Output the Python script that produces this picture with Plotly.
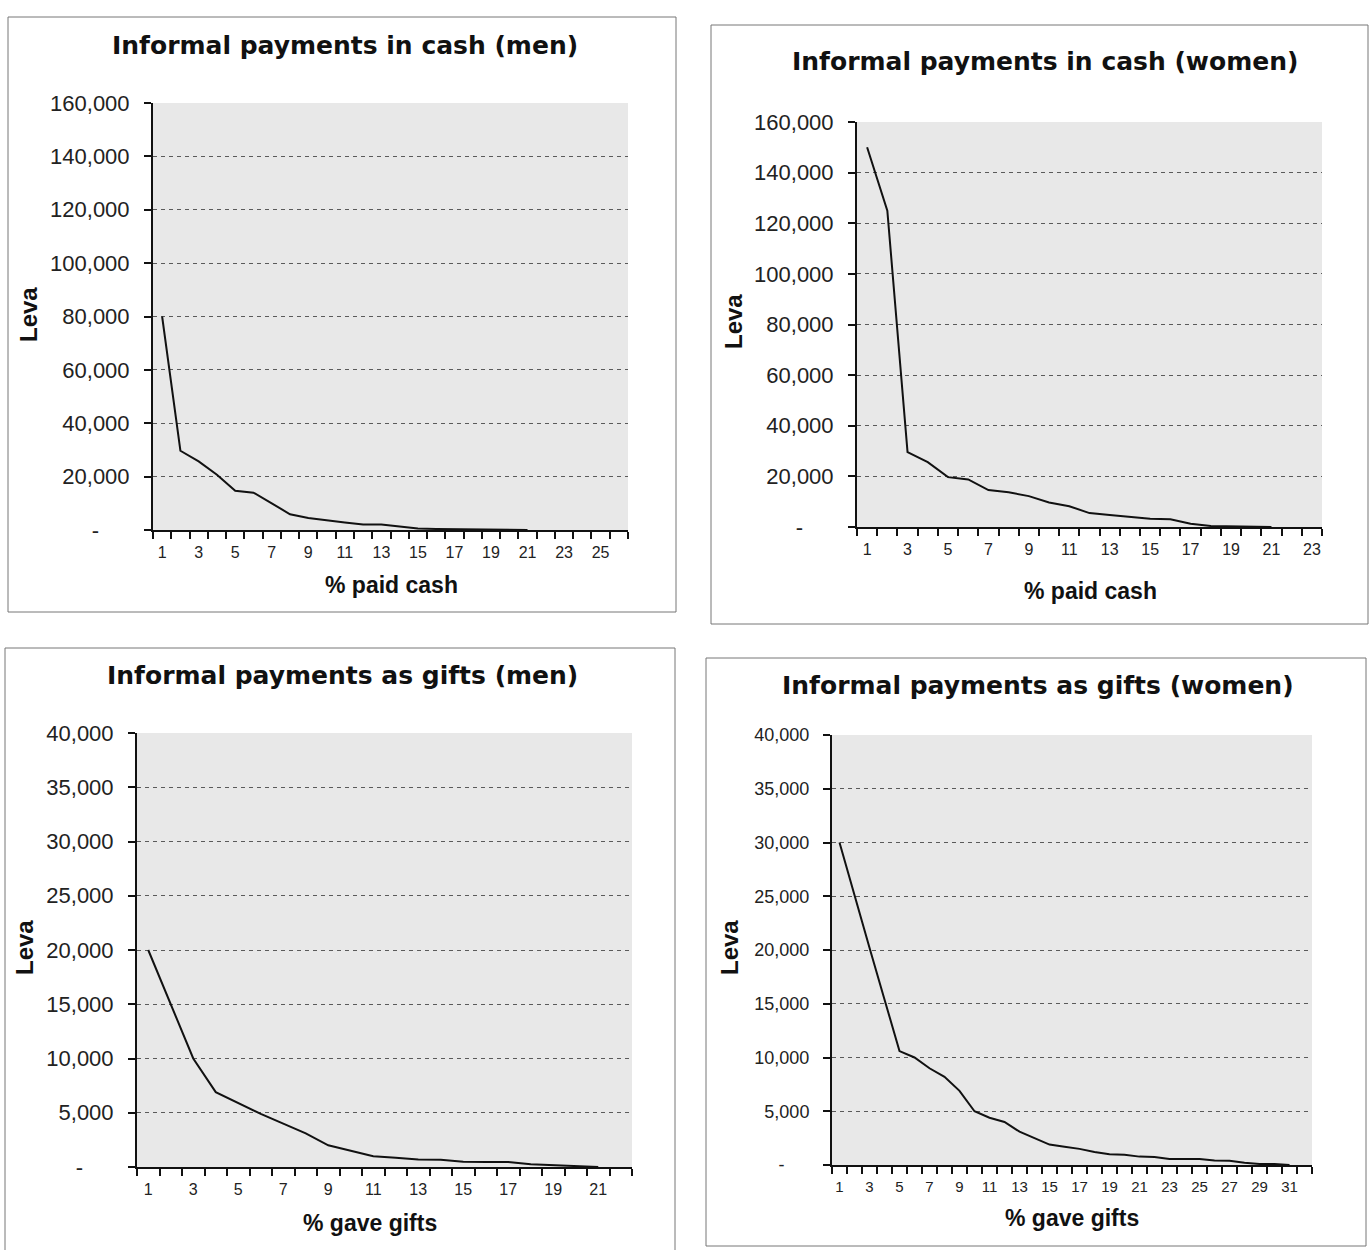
import plotly.graph_objects as go

# Average informal payment (leva) by respondent rank, cash and gifts, men and women
men_cash = [80000, 29700, 25700, 20700, 14700, 14000, 10000, 5900, 4500, 3600, 2800,
            2100, 2100, 1300, 600, 400, 350, 300, 250, 200, 0]
women_cash = [150000, 125000, 29600, 25600, 19700, 18800, 14600, 13700, 12200, 9700, 8200,
              5500, 4700, 3900, 3300, 3100, 1300, 400, 300, 300, 0]
men_gifts = [20000, 15000, 10000, 6900, 5900, 4900, 4000, 3100, 2000, 1500, 1000,
             850, 680, 660, 480, 470, 450, 250, 150, 100, 0]
women_gifts = [30000, 25000, 20200, 15400, 10600, 10000, 9000, 8200, 6900, 5000, 4400,
               4000, 3100, 2500, 1900, 1700, 1500, 1200, 1000, 950, 780, 750, 560, 560,
               560, 430, 400, 200, 100, 100, 0]

cash_ticks = [0, 20000, 40000, 60000, 80000, 100000, 120000, 140000, 160000]
gift_ticks = [0, 5000, 10000, 15000, 20000, 25000, 30000, 35000, 40000]

titles = ["Informal payments in cash (men)", "Informal payments in cash (women)",
          "Informal payments as gifts (men)", "Informal payments as gifts (women)"]
xtitles = ["% paid cash", "% paid cash", "% gave gifts", "% gave gifts"]

W, H = 1371, 1250
FONT = "Liberation Sans, Arial, sans-serif"
TITLE_FONT = "DejaVu Sans, Liberation Sans, sans-serif"


def fmt(v):
    return "-\u00a0\u00a0\u00a0\u00a0\u00a0" if v == 0 else f"{v:,}"


# panel: series, category count, y ticks, plot box (px), frame (px), font sizes, label positions
panels = [
    dict(y=men_cash, n=26, ticks=cash_ticks, box=(153, 628, 103, 530),
         frame=(8, 676, 17, 612), yfs=22, xfs=16,
         title_xy=(345, 45), xt_xy=(391, 585), leva_xy=(28, 315)),
    dict(y=women_cash, n=23, ticks=cash_ticks, box=(857, 1322, 122, 527),
         frame=(711, 1368, 25, 624), yfs=22, xfs=16,
         title_xy=(1045, 62), xt_xy=(1090, 591), leva_xy=(733, 322)),
    dict(y=men_gifts, n=22, ticks=gift_ticks, box=(137, 632, 733, 1167),
         frame=(5, 675, 648, 1252), yfs=22, xfs=16,
         title_xy=(342, 676), xt_xy=(370, 1223), leva_xy=(24, 948)),
    dict(y=women_gifts, n=32, ticks=gift_ticks, box=(832, 1312, 735, 1165),
         frame=(706, 1366, 658, 1246), yfs=18, xfs=15,
         title_xy=(1038, 685), xt_xy=(1072, 1218), leva_xy=(729, 948)),
]

fig = go.Figure()
shapes = []
annotations = []

for i, p in enumerate(panels, start=1):
    xa = "x" if i == 1 else f"x{i}"
    ya = "y" if i == 1 else f"y{i}"
    xl = "xaxis" if i == 1 else f"xaxis{i}"
    yl = "yaxis" if i == 1 else f"yaxis{i}"
    x0, x1, y0, y1 = p["box"]
    n = p["n"]
    cats = list(range(1, len(p["y"]) + 1))

    fig.add_trace(go.Scatter(x=cats, y=p["y"], mode="lines", xaxis=xa, yaxis=ya,
                             line=dict(color="#111111", width=2), showlegend=False,
                             hoverinfo="skip"))

    odd = list(range(1, n + 1, 2))
    fig.update_layout({
        xl: dict(domain=[x0 / W, x1 / W], anchor=ya, range=[0.5, n + 0.5],
                 automargin=False,
                 tickmode="array", tickvals=odd, ticktext=[str(v) for v in odd],
                 ticks="", showgrid=False, zeroline=False, showline=True,
                 linecolor="#111111", linewidth=2, ticklabelstandoff=7,
                 tickfont=dict(family=FONT, size=p["xfs"], color="#222222"),
                 minor=dict(tickmode="array",
                            tickvals=[k + 0.5 for k in range(0, n + 1)],
                            ticks="outside", ticklen=7, tickwidth=2,
                            tickcolor="#111111", showgrid=False),
                 fixedrange=True),
        yl: dict(domain=[1 - y1 / H, 1 - y0 / H], anchor=xa,
                 automargin=False,
                 range=[0, p["ticks"][-1]], tickmode="array", tickvals=p["ticks"],
                 ticktext=[fmt(v) for v in p["ticks"]], ticks="outside", ticklen=7,
                 tickwidth=2, tickcolor="#111111", showgrid=False, zeroline=False,
                 showline=True, linecolor="#111111", linewidth=2, ticklabelstandoff=10,
                 tickfont=dict(family=FONT, size=p["yfs"], color="#222222"),
                 minor=dict(tickmode="array", tickvals=p["ticks"][1:-1], ticks="",
                            showgrid=True, gridcolor="#5a5a5a", gridwidth=1,
                            griddash="4px,4px"),
                 fixedrange=True),
    })

    # shaded plotting area
    shapes.append(dict(type="rect", xref="paper", yref="paper", layer="below",
                       x0=x0 / W, x1=x1 / W, y0=1 - y1 / H, y1=1 - y0 / H,
                       fillcolor="#e8e8e8", line=dict(width=0)))
    # panel frame
    fx0, fx1, fy0, fy1 = p["frame"]
    shapes.append(dict(type="rect", xref="paper", yref="paper", layer="below",
                       x0=fx0 / W, x1=fx1 / W, y0=1 - fy1 / H, y1=1 - fy0 / H,
                       fillcolor="rgba(0,0,0,0)", line=dict(color="#777777", width=1)))

    tx, ty = p["title_xy"]
    annotations.append(dict(text=f"<b>{titles[i - 1]}</b>", xref="paper", yref="paper",
                            x=tx / W, y=1 - ty / H, xanchor="center", yanchor="middle",
                            showarrow=False,
                            font=dict(family=TITLE_FONT, size=25, color="#111111")))
    ax, ay = p["xt_xy"]
    annotations.append(dict(text=f"<b>{xtitles[i - 1]}</b>", xref="paper", yref="paper",
                            x=ax / W, y=1 - ay / H, xanchor="center", yanchor="middle",
                            showarrow=False,
                            font=dict(family=FONT, size=23, color="#111111")))
    lx, ly = p["leva_xy"]
    annotations.append(dict(text="<b>Leva</b>", xref="paper", yref="paper",
                            x=lx / W, y=1 - ly / H, xanchor="center", yanchor="middle",
                            textangle=-90, showarrow=False,
                            font=dict(family=FONT, size=24, color="#111111")))

fig.update_layout(width=W, height=H,
                  margin=dict(l=0, r=0, t=0, b=0, pad=0, autoexpand=False),
                  paper_bgcolor="white", plot_bgcolor="rgba(0,0,0,0)",
                  shapes=shapes, annotations=annotations, showlegend=False)

fig.write_html("out.html", config={"displayModeBar": False})
